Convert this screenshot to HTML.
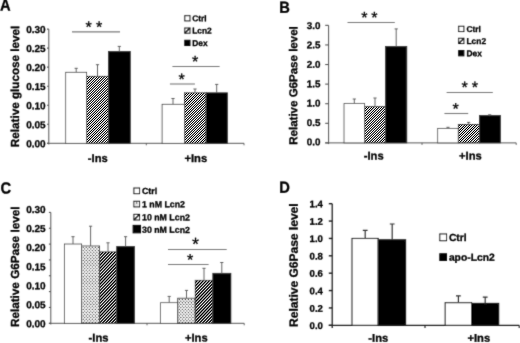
<!DOCTYPE html>
<html><head><meta charset="utf-8"><title>Figure</title>
<style>
html,body{margin:0;padding:0;background:#fff;}
body{width:520px;height:343px;overflow:hidden;}
svg{display:block;}
svg text{font-family:"Liberation Sans",sans-serif;font-weight:bold;fill:#000;stroke:#000;stroke-width:0.3px;}
</style></head>
<body>
<svg width="520" height="343" viewBox="0 0 520 343">
<defs>
<linearGradient id="gh1" gradientUnits="userSpaceOnUse" x1="0" y1="0" x2="1.2600" y2="1.2600" spreadMethod="repeat"><stop offset="0.0000" stop-color="#000000"/><stop offset="0.0625" stop-color="#000000"/><stop offset="0.1250" stop-color="#000000"/><stop offset="0.1875" stop-color="#393939"/><stop offset="0.2500" stop-color="#8c8c8c"/><stop offset="0.3125" stop-color="#dfdfdf"/><stop offset="0.3750" stop-color="#ffffff"/><stop offset="0.4375" stop-color="#ffffff"/><stop offset="0.5000" stop-color="#ffffff"/><stop offset="0.5625" stop-color="#ffffff"/><stop offset="0.6250" stop-color="#ffffff"/><stop offset="0.6875" stop-color="#dfdfdf"/><stop offset="0.7500" stop-color="#8c8c8c"/><stop offset="0.8125" stop-color="#393939"/><stop offset="0.8750" stop-color="#000000"/><stop offset="0.9375" stop-color="#000000"/><stop offset="1.0000" stop-color="#000000"/></linearGradient>
<filter id="soft" x="0" y="0" width="520" height="343" filterUnits="userSpaceOnUse"><feConvolveMatrix order="3" kernelMatrix="1 4 1 4 28 4 1 4 1" divisor="48" edgeMode="none" preserveAlpha="false"/></filter>
</defs>
<rect width="520" height="343" fill="#fff"/>
<g>
<rect x="86.60" y="76.30" width="21.80" height="67.00" fill="url(#gh1)"/>
<rect x="184.40" y="92.80" width="21.70" height="50.50" fill="url(#gh1)"/>
<rect x="364.60" y="106.60" width="20.90" height="36.30" fill="url(#gh1)"/>
<rect x="458.30" y="124.40" width="21.10" height="18.50" fill="url(#gh1)"/>
<clipPath id="c2"><rect x="99.60" y="251.80" width="17.10" height="71.50"/></clipPath>
<path clip-path="url(#c2)" d="M29.36 323.30L97.28 251.80M32.40 323.30L100.32 251.80M35.44 323.30L103.36 251.80M38.48 323.30L106.40 251.80M41.52 323.30L109.44 251.80M44.55 323.30L112.48 251.80M47.59 323.30L115.52 251.80M50.63 323.30L118.56 251.80M53.67 323.30L121.60 251.80M56.71 323.30L124.64 251.80M59.75 323.30L127.68 251.80M62.79 323.30L130.72 251.80M65.83 323.30L133.76 251.80M68.88 323.30L136.80 251.80M71.92 323.30L139.84 251.80M74.96 323.30L142.88 251.80M78.00 323.30L145.92 251.80M81.04 323.30L148.96 251.80M84.08 323.30L152.00 251.80M87.12 323.30L155.04 251.80M90.16 323.30L158.08 251.80M93.20 323.30L161.12 251.80M96.24 323.30L164.16 251.80M99.28 323.30L167.20 251.80M102.32 323.30L170.24 251.80M105.36 323.30L173.28 251.80M108.40 323.30L176.32 251.80M111.44 323.30L179.36 251.80M114.48 323.30L182.40 251.80M117.52 323.30L185.44 251.80" stroke="#000" stroke-width="1.3" fill="none"/>
<clipPath id="c4"><rect x="195.20" y="280.30" width="17.60" height="43.00"/></clipPath>
<path clip-path="url(#c4)" d="M153.71 323.30L194.56 280.30M156.75 323.30L197.60 280.30M159.79 323.30L200.64 280.30M162.83 323.30L203.68 280.30M165.87 323.30L206.72 280.30M168.91 323.30L209.76 280.30M171.95 323.30L212.80 280.30M174.99 323.30L215.84 280.30M178.03 323.30L218.88 280.30M181.07 323.30L221.92 280.30M184.11 323.30L224.96 280.30M187.15 323.30L228.00 280.30M190.19 323.30L231.04 280.30M193.23 323.30L234.08 280.30M196.27 323.30L237.12 280.30M199.31 323.30L240.16 280.30M202.35 323.30L243.20 280.30M205.39 323.30L246.24 280.30M208.43 323.30L249.28 280.30M211.47 323.30L252.32 280.30M214.51 323.30L255.36 280.30" stroke="#000" stroke-width="1.3" fill="none"/>
</g>
<g filter="url(#soft)">
<text transform="translate(-0.10,10.50) rotate(0.05) scale(0.92,1)" font-size="16.0">A</text>
<path d="M48.80 29.10V144.50" stroke="#555" stroke-width="1.0" fill="none"/>
<path d="M47.00 143.30H244.00" stroke="#555" stroke-width="1.0" fill="none"/>
<path d="M47.00 143.30H48.80" stroke="#555" stroke-width="1.10" fill="none"/>
<path d="M47.00 124.27H48.80" stroke="#555" stroke-width="1.10" fill="none"/>
<path d="M47.00 105.23H48.80" stroke="#555" stroke-width="1.10" fill="none"/>
<path d="M47.00 86.20H48.80" stroke="#555" stroke-width="1.10" fill="none"/>
<path d="M47.00 67.17H48.80" stroke="#555" stroke-width="1.10" fill="none"/>
<path d="M47.00 48.13H48.80" stroke="#555" stroke-width="1.10" fill="none"/>
<path d="M47.00 29.10H48.80" stroke="#555" stroke-width="1.10" fill="none"/>
<text x="45.60" y="147.23" transform="rotate(0.05 45.60 147.23)" font-size="10" text-anchor="end" >0.00</text>
<text x="45.60" y="128.19" transform="rotate(0.05 45.60 128.19)" font-size="10" text-anchor="end" >0.05</text>
<text x="45.60" y="109.15" transform="rotate(0.05 45.60 109.15)" font-size="10" text-anchor="end" >0.10</text>
<text x="45.60" y="90.11" transform="rotate(0.05 45.60 90.11)" font-size="10" text-anchor="end" >0.15</text>
<text x="45.60" y="71.06" transform="rotate(0.05 45.60 71.06)" font-size="10" text-anchor="end" >0.20</text>
<text x="45.60" y="52.02" transform="rotate(0.05 45.60 52.02)" font-size="10" text-anchor="end" >0.25</text>
<text x="45.60" y="32.98" transform="rotate(0.05 45.60 32.98)" font-size="10" text-anchor="end" >0.30</text>
<path d="M146.30 143.30v2.0" stroke="#555" stroke-width="0.90" fill="none"/>
<path d="M244.00 143.30v2.0" stroke="#555" stroke-width="0.90" fill="none"/>
<text transform="translate(19.09,86.45) rotate(-89.95)" font-size="11.7" text-anchor="middle">Relative glucose level</text>
<rect x="65.70" y="72.30" width="20.90" height="71.00" fill="#fff"/>
<rect x="65.70" y="72.30" width="20.90" height="71.00" fill="none" stroke="#3c3c3c" stroke-width="0.8"/>
<path d="M76.20 72.30V68.30M74.60 68.30H77.80" stroke="#555" stroke-width="0.9" fill="none"/>
<rect x="86.60" y="76.30" width="21.80" height="67.00" fill="none" stroke="#3c3c3c" stroke-width="0.8"/>
<path d="M97.50 76.30V64.70M95.90 64.70H99.10" stroke="#555" stroke-width="0.9" fill="none"/>
<rect x="108.40" y="51.40" width="21.90" height="91.90" fill="#000"/>
<rect x="108.40" y="51.40" width="21.90" height="91.90" fill="none" stroke="#3c3c3c" stroke-width="0.8"/>
<path d="M119.30 51.40V46.40M117.70 46.40H120.90" stroke="#555" stroke-width="0.9" fill="none"/>
<rect x="162.10" y="104.30" width="22.30" height="39.00" fill="#fff"/>
<rect x="162.10" y="104.30" width="22.30" height="39.00" fill="none" stroke="#3c3c3c" stroke-width="0.8"/>
<path d="M173.00 104.30V98.50M171.40 98.50H174.60" stroke="#555" stroke-width="0.9" fill="none"/>
<rect x="184.40" y="92.80" width="21.70" height="50.50" fill="none" stroke="#3c3c3c" stroke-width="0.8"/>
<path d="M195.00 92.80V89.00M193.40 89.00H196.60" stroke="#555" stroke-width="0.9" fill="none"/>
<rect x="206.10" y="92.80" width="21.30" height="50.50" fill="#000"/>
<rect x="206.10" y="92.80" width="21.30" height="50.50" fill="none" stroke="#3c3c3c" stroke-width="0.8"/>
<path d="M216.70 92.80V84.40M215.10 84.40H218.30" stroke="#555" stroke-width="0.9" fill="none"/>
<path d="M72.00 31.90H120.00" stroke="#7a7a7a" stroke-width="1.1" fill="none"/>
<text x="88.70" y="32.59" transform="rotate(0.05 88.70 24.40)" font-size="16.0" text-anchor="middle" style="font-weight:normal;stroke-width:0.3px">*</text>
<text x="99.20" y="32.59" transform="rotate(0.05 99.20 24.40)" font-size="16.0" text-anchor="middle" style="font-weight:normal;stroke-width:0.3px">*</text>
<path d="M172.40 66.50H219.60" stroke="#7a7a7a" stroke-width="1.1" fill="none"/>
<text x="195.20" y="67.09" transform="rotate(0.05 195.20 58.90)" font-size="16.0" text-anchor="middle" style="font-weight:normal;stroke-width:0.3px">*</text>
<path d="M169.90 84.00H194.90" stroke="#7a7a7a" stroke-width="1.1" fill="none"/>
<text x="181.65" y="84.89" transform="rotate(0.05 181.65 76.70)" font-size="16.0" text-anchor="middle" style="font-weight:normal;stroke-width:0.3px">*</text>
<rect x="184.80" y="15.70" width="5.20" height="5.20" fill="#fff" stroke="#111" stroke-width="1.05"/>
<text x="192.20" y="21.31" transform="rotate(0.05 192.20 21.31)" font-size="8.4" text-anchor="start" >Ctrl</text>
<rect x="184.80" y="28.00" width="5.20" height="5.20" fill="#fff" stroke="#111" stroke-width="1.05"/>
<path d="M185.20 32.80L189.60 28.40" stroke="#000" stroke-width="1.5" fill="none"/>
<text x="192.20" y="33.61" transform="rotate(0.05 192.20 33.61)" font-size="8.4" text-anchor="start" >Lcn2</text>
<rect x="184.80" y="40.30" width="5.20" height="5.20" fill="#000" stroke="#111" stroke-width="1.05"/>
<text x="192.20" y="45.91" transform="rotate(0.05 192.20 45.91)" font-size="8.4" text-anchor="start" >Dex</text>
<text x="97.80" y="162.00" transform="rotate(0.05 97.80 162.00)" font-size="11.2" text-anchor="middle" >-Ins</text>
<text x="195.80" y="161.90" transform="rotate(0.05 195.80 161.90)" font-size="11.2" text-anchor="middle" >+Ins</text>
<text transform="translate(279.30,12.80) rotate(0.05) scale(0.92,1)" font-size="16.0">B</text>
<path d="M328.60 25.35V144.10" stroke="#555" stroke-width="1.0" fill="none"/>
<path d="M325.20 142.90H516.20" stroke="#555" stroke-width="1.0" fill="none"/>
<path d="M325.20 142.90H328.60" stroke="#555" stroke-width="1.10" fill="none"/>
<path d="M325.20 123.31H328.60" stroke="#555" stroke-width="1.10" fill="none"/>
<path d="M325.20 103.72H328.60" stroke="#555" stroke-width="1.10" fill="none"/>
<path d="M325.20 84.12H328.60" stroke="#555" stroke-width="1.10" fill="none"/>
<path d="M325.20 64.53H328.60" stroke="#555" stroke-width="1.10" fill="none"/>
<path d="M325.20 44.94H328.60" stroke="#555" stroke-width="1.10" fill="none"/>
<path d="M325.20 25.35H328.60" stroke="#555" stroke-width="1.10" fill="none"/>
<text x="320.40" y="145.31" transform="rotate(0.05 320.40 145.31)" font-size="9.8" text-anchor="end" >0.0</text>
<text x="320.40" y="125.93" transform="rotate(0.05 320.40 125.93)" font-size="9.8" text-anchor="end" >0.5</text>
<text x="320.40" y="106.54" transform="rotate(0.05 320.40 106.54)" font-size="9.8" text-anchor="end" >1.0</text>
<text x="320.40" y="87.16" transform="rotate(0.05 320.40 87.16)" font-size="9.8" text-anchor="end" >1.5</text>
<text x="320.40" y="67.78" transform="rotate(0.05 320.40 67.78)" font-size="9.8" text-anchor="end" >2.0</text>
<text x="320.40" y="48.39" transform="rotate(0.05 320.40 48.39)" font-size="9.8" text-anchor="end" >2.5</text>
<text x="320.40" y="29.01" transform="rotate(0.05 320.40 29.01)" font-size="9.8" text-anchor="end" >3.0</text>
<path d="M422.00 142.90v2.0" stroke="#555" stroke-width="0.90" fill="none"/>
<path d="M516.20 142.90v2.0" stroke="#555" stroke-width="0.90" fill="none"/>
<text transform="translate(297.33,85.50) rotate(-89.95)" font-size="11.54" text-anchor="middle">Relative G6Pase level</text>
<rect x="344.00" y="103.60" width="20.60" height="39.30" fill="#fff"/>
<rect x="344.00" y="103.60" width="20.60" height="39.30" fill="none" stroke="#3c3c3c" stroke-width="0.8"/>
<path d="M354.30 103.60V99.00M352.70 99.00H355.90" stroke="#555" stroke-width="0.9" fill="none"/>
<rect x="364.60" y="106.60" width="20.90" height="36.30" fill="none" stroke="#3c3c3c" stroke-width="0.8"/>
<path d="M375.00 106.60V98.00M373.40 98.00H376.60" stroke="#555" stroke-width="0.9" fill="none"/>
<rect x="385.50" y="46.40" width="21.30" height="96.50" fill="#000"/>
<rect x="385.50" y="46.40" width="21.30" height="96.50" fill="none" stroke="#3c3c3c" stroke-width="0.8"/>
<path d="M396.20 46.40V28.90M394.60 28.90H397.80" stroke="#555" stroke-width="0.9" fill="none"/>
<rect x="437.70" y="128.50" width="20.60" height="14.40" fill="#fff"/>
<rect x="437.70" y="128.50" width="20.60" height="14.40" fill="none" stroke="#3c3c3c" stroke-width="0.8"/>
<path d="M448.00 128.50V127.30M446.40 127.30H449.60" stroke="#555" stroke-width="0.9" fill="none"/>
<rect x="458.30" y="124.40" width="21.10" height="18.50" fill="none" stroke="#3c3c3c" stroke-width="0.8"/>
<path d="M468.60 124.40V122.40M467.00 122.40H470.20" stroke="#555" stroke-width="0.9" fill="none"/>
<rect x="479.40" y="115.40" width="21.00" height="27.50" fill="#000"/>
<rect x="479.40" y="115.40" width="21.00" height="27.50" fill="none" stroke="#3c3c3c" stroke-width="0.8"/>
<path d="M489.70 115.40V114.80M488.10 114.80H491.30" stroke="#555" stroke-width="0.9" fill="none"/>
<path d="M347.50 22.50H394.80" stroke="#7a7a7a" stroke-width="1.1" fill="none"/>
<text x="364.40" y="23.09" transform="rotate(0.05 364.40 14.90)" font-size="16.0" text-anchor="middle" style="font-weight:normal;stroke-width:0.3px">*</text>
<text x="374.40" y="23.09" transform="rotate(0.05 374.40 14.90)" font-size="16.0" text-anchor="middle" style="font-weight:normal;stroke-width:0.3px">*</text>
<path d="M446.60 92.50H492.80" stroke="#7a7a7a" stroke-width="1.1" fill="none"/>
<text x="464.70" y="92.69" transform="rotate(0.05 464.70 84.50)" font-size="16.0" text-anchor="middle" style="font-weight:normal;stroke-width:0.3px">*</text>
<text x="474.80" y="92.69" transform="rotate(0.05 474.80 84.50)" font-size="16.0" text-anchor="middle" style="font-weight:normal;stroke-width:0.3px">*</text>
<path d="M444.40 113.50H468.20" stroke="#7a7a7a" stroke-width="1.1" fill="none"/>
<text x="455.70" y="114.39" transform="rotate(0.05 455.70 106.20)" font-size="16.0" text-anchor="middle" style="font-weight:normal;stroke-width:0.3px">*</text>
<rect x="458.70" y="26.30" width="5.20" height="5.20" fill="#fff" stroke="#111" stroke-width="1.05"/>
<text x="466.50" y="31.91" transform="rotate(0.05 466.50 31.91)" font-size="8.4" text-anchor="start" >Ctrl</text>
<rect x="458.70" y="38.30" width="5.20" height="5.20" fill="#fff" stroke="#111" stroke-width="1.05"/>
<path d="M459.10 43.10L463.50 38.70" stroke="#000" stroke-width="1.5" fill="none"/>
<text x="466.50" y="43.91" transform="rotate(0.05 466.50 43.91)" font-size="8.4" text-anchor="start" >Lcn2</text>
<rect x="458.70" y="50.60" width="5.20" height="5.20" fill="#000" stroke="#111" stroke-width="1.05"/>
<text x="466.50" y="56.21" transform="rotate(0.05 466.50 56.21)" font-size="8.4" text-anchor="start" >Dex</text>
<text x="373.70" y="159.60" transform="rotate(0.05 373.70 159.60)" font-size="11.2" text-anchor="middle" >-Ins</text>
<text x="470.40" y="159.60" transform="rotate(0.05 470.40 159.60)" font-size="11.2" text-anchor="middle" >+Ins</text>
<text transform="translate(0.50,193.50) rotate(0.05) scale(0.92,1)" font-size="16.0">C</text>
<path d="M50.80 212.40V324.50" stroke="#555" stroke-width="1.0" fill="none"/>
<path d="M48.90 323.30H244.20" stroke="#555" stroke-width="1.0" fill="none"/>
<path d="M48.90 323.30H50.80" stroke="#555" stroke-width="1.10" fill="none"/>
<path d="M48.90 307.46H50.80" stroke="#555" stroke-width="1.10" fill="none"/>
<path d="M48.90 291.61H50.80" stroke="#555" stroke-width="1.10" fill="none"/>
<path d="M48.90 275.77H50.80" stroke="#555" stroke-width="1.10" fill="none"/>
<path d="M48.90 259.93H50.80" stroke="#555" stroke-width="1.10" fill="none"/>
<path d="M48.90 244.09H50.80" stroke="#555" stroke-width="1.10" fill="none"/>
<path d="M48.90 228.24H50.80" stroke="#555" stroke-width="1.10" fill="none"/>
<path d="M48.90 212.40H50.80" stroke="#555" stroke-width="1.10" fill="none"/>
<text x="45.60" y="327.23" transform="rotate(0.05 45.60 327.23)" font-size="10" text-anchor="end" >0.00</text>
<text x="45.60" y="308.20" transform="rotate(0.05 45.60 308.20)" font-size="10" text-anchor="end" >0.05</text>
<text x="45.60" y="289.18" transform="rotate(0.05 45.60 289.18)" font-size="10" text-anchor="end" >0.10</text>
<text x="45.60" y="270.15" transform="rotate(0.05 45.60 270.15)" font-size="10" text-anchor="end" >0.15</text>
<text x="45.60" y="251.13" transform="rotate(0.05 45.60 251.13)" font-size="10" text-anchor="end" >0.20</text>
<text x="45.60" y="232.10" transform="rotate(0.05 45.60 232.10)" font-size="10" text-anchor="end" >0.25</text>
<text x="45.60" y="213.08" transform="rotate(0.05 45.60 213.08)" font-size="10" text-anchor="end" >0.30</text>
<path d="M147.00 323.30v2.0" stroke="#555" stroke-width="0.90" fill="none"/>
<path d="M244.20 323.30v2.0" stroke="#555" stroke-width="0.90" fill="none"/>
<text transform="translate(19.10,266.80) rotate(-89.95)" font-size="11.72" text-anchor="middle">Relative G6Pase level</text>
<rect x="64.50" y="244.00" width="17.10" height="79.30" fill="#fff"/>
<rect x="64.50" y="244.00" width="17.10" height="79.30" fill="none" stroke="#3c3c3c" stroke-width="0.8"/>
<path d="M73.00 244.00V236.70M71.40 236.70H74.60" stroke="#555" stroke-width="0.9" fill="none"/>
<clipPath id="c1"><rect x="81.60" y="246.00" width="18.00" height="77.30"/></clipPath>
<path clip-path="url(#c1)" d="M80.16 247.30H102.64M81.68 248.94H102.64M80.16 250.57H102.64M81.68 252.20H102.64M80.16 253.84H102.64M81.68 255.47H102.64M80.16 257.11H102.64M81.68 258.74H102.64M80.16 260.38H102.64M81.68 262.01H102.64M80.16 263.65H102.64M81.68 265.28H102.64M80.16 266.92H102.64M81.68 268.55H102.64M80.16 270.19H102.64M81.68 271.82H102.64M80.16 273.46H102.64M81.68 275.09H102.64M80.16 276.73H102.64M81.68 278.36H102.64M80.16 280.00H102.64M81.68 281.63H102.64M80.16 283.27H102.64M81.68 284.90H102.64M80.16 286.54H102.64M81.68 288.17H102.64M80.16 289.81H102.64M81.68 291.44H102.64M80.16 293.08H102.64M81.68 294.71H102.64M80.16 296.35H102.64M81.68 297.98H102.64M80.16 299.62H102.64M81.68 301.25H102.64M80.16 302.89H102.64M81.68 304.52H102.64M80.16 306.16H102.64M81.68 307.79H102.64M80.16 309.43H102.64M81.68 311.06H102.64M80.16 312.70H102.64M81.68 314.33H102.64M80.16 315.97H102.64M81.68 317.60H102.64M80.16 319.24H102.64M81.68 320.87H102.64M80.16 322.51H102.64M81.68 324.14H102.64M80.16 325.78H102.64" stroke="#3a3a3a" stroke-width="1.32" stroke-linecap="round" stroke-dasharray="0 3.04" fill="none"/>
<rect x="81.60" y="246.00" width="18.00" height="77.30" fill="none" stroke="#3c3c3c" stroke-width="0.8"/>
<path d="M90.60 246.00V226.20M89.00 226.20H92.20" stroke="#555" stroke-width="0.9" fill="none"/>
<rect x="99.60" y="251.80" width="17.10" height="71.50" fill="none" stroke="#3c3c3c" stroke-width="0.8"/>
<path d="M108.00 251.80V242.80M106.40 242.80H109.60" stroke="#555" stroke-width="0.9" fill="none"/>
<rect x="116.70" y="246.50" width="17.80" height="76.80" fill="#000"/>
<rect x="116.70" y="246.50" width="17.80" height="76.80" fill="none" stroke="#3c3c3c" stroke-width="0.8"/>
<path d="M125.60 246.50V236.70M124.00 236.70H127.20" stroke="#555" stroke-width="0.9" fill="none"/>
<rect x="160.60" y="302.70" width="17.10" height="20.60" fill="#fff"/>
<rect x="160.60" y="302.70" width="17.10" height="20.60" fill="none" stroke="#3c3c3c" stroke-width="0.8"/>
<path d="M169.20 302.70V296.40M167.60 296.40H170.80" stroke="#555" stroke-width="0.9" fill="none"/>
<clipPath id="c3"><rect x="177.70" y="298.20" width="17.50" height="25.10"/></clipPath>
<path clip-path="url(#c3)" d="M176.26 299.50H198.24M177.78 301.13H198.24M176.26 302.77H198.24M177.78 304.40H198.24M176.26 306.04H198.24M177.78 307.67H198.24M176.26 309.31H198.24M177.78 310.94H198.24M176.26 312.58H198.24M177.78 314.21H198.24M176.26 315.85H198.24M177.78 317.48H198.24M176.26 319.12H198.24M177.78 320.75H198.24M176.26 322.39H198.24M177.78 324.02H198.24M176.26 325.66H198.24" stroke="#3a3a3a" stroke-width="1.32" stroke-linecap="round" stroke-dasharray="0 3.04" fill="none"/>
<rect x="177.70" y="298.20" width="17.50" height="25.10" fill="none" stroke="#3c3c3c" stroke-width="0.8"/>
<path d="M186.50 298.20V290.40M184.90 290.40H188.10" stroke="#555" stroke-width="0.9" fill="none"/>
<rect x="195.20" y="280.30" width="17.60" height="43.00" fill="none" stroke="#3c3c3c" stroke-width="0.8"/>
<path d="M204.00 280.30V268.30M202.40 268.30H205.60" stroke="#555" stroke-width="0.9" fill="none"/>
<rect x="212.80" y="273.30" width="18.10" height="50.00" fill="#000"/>
<rect x="212.80" y="273.30" width="18.10" height="50.00" fill="none" stroke="#3c3c3c" stroke-width="0.8"/>
<path d="M221.80 273.30V262.50M220.20 262.50H223.40" stroke="#555" stroke-width="0.9" fill="none"/>
<path d="M168.00 249.50H226.70" stroke="#7a7a7a" stroke-width="1.1" fill="none"/>
<text x="195.50" y="250.22" transform="rotate(0.05 195.50 241.00)" font-size="18" text-anchor="middle" style="font-weight:normal;stroke-width:0.2px">*</text>
<path d="M168.00 264.50H208.60" stroke="#7a7a7a" stroke-width="1.1" fill="none"/>
<text x="190.10" y="265.19" transform="rotate(0.05 190.10 257.00)" font-size="16" text-anchor="middle" style="font-weight:normal;stroke-width:0.3px">*</text>
<rect x="133.90" y="188.00" width="5.60" height="5.60" fill="#fff" stroke="#111" stroke-width="1.05"/>
<text x="142.00" y="193.95" transform="rotate(0.05 142.00 193.95)" font-size="8.8" text-anchor="start" >Ctrl</text>
<rect x="133.90" y="201.30" width="5.60" height="5.60" fill="#fff" stroke="#111" stroke-width="1.05"/>
<rect x="134.80" y="202.20" width="3.80" height="3.80" fill="#e4e4e4"/>
<rect x="136.20" y="202.20" width="1" height="1.5" fill="#444"/>
<text x="142.00" y="207.25" transform="rotate(0.05 142.00 207.25)" font-size="8.8" text-anchor="start" >1 nM Lcn2</text>
<rect x="133.90" y="214.40" width="5.60" height="5.60" fill="#fff" stroke="#111" stroke-width="1.05"/>
<path d="M134.30 219.60L139.10 214.80" stroke="#000" stroke-width="1.5" fill="none"/>
<text x="142.00" y="220.35" transform="rotate(0.05 142.00 220.35)" font-size="8.8" text-anchor="start" >10 nM Lcn2</text>
<rect x="133.10" y="225.40" width="7.40" height="7.40" fill="#000" stroke="#111" stroke-width="1.05"/>
<text x="142.00" y="232.85" transform="rotate(0.05 142.00 232.85)" font-size="8.8" text-anchor="start" >30 nM Lcn2</text>
<text x="98.50" y="341.60" transform="rotate(0.05 98.50 341.60)" font-size="11.2" text-anchor="middle" >-Ins</text>
<text x="196.30" y="341.60" transform="rotate(0.05 196.30 341.60)" font-size="11.2" text-anchor="middle" >+Ins</text>
<text transform="translate(279.30,192.80) rotate(0.05) scale(0.92,1)" font-size="16.0">D</text>
<path d="M332.20 203.70V327.90" stroke="#222" stroke-width="1.3" fill="none"/>
<path d="M328.80 325.30H519.20" stroke="#222" stroke-width="1.3" fill="none"/>
<path d="M328.80 325.30H332.20" stroke="#222" stroke-width="1.43" fill="none"/>
<path d="M328.80 307.93H332.20" stroke="#222" stroke-width="1.43" fill="none"/>
<path d="M328.80 290.56H332.20" stroke="#222" stroke-width="1.43" fill="none"/>
<path d="M328.80 273.19H332.20" stroke="#222" stroke-width="1.43" fill="none"/>
<path d="M328.80 255.81H332.20" stroke="#222" stroke-width="1.43" fill="none"/>
<path d="M328.80 238.44H332.20" stroke="#222" stroke-width="1.43" fill="none"/>
<path d="M328.80 221.07H332.20" stroke="#222" stroke-width="1.43" fill="none"/>
<path d="M328.80 203.70H332.20" stroke="#222" stroke-width="1.43" fill="none"/>
<text x="322.90" y="329.04" transform="rotate(0.05 322.90 329.04)" font-size="9.6" text-anchor="end" >0.0</text>
<text x="322.90" y="311.65" transform="rotate(0.05 322.90 311.65)" font-size="9.6" text-anchor="end" >0.2</text>
<text x="322.90" y="294.27" transform="rotate(0.05 322.90 294.27)" font-size="9.6" text-anchor="end" >0.4</text>
<text x="322.90" y="276.88" transform="rotate(0.05 322.90 276.88)" font-size="9.6" text-anchor="end" >0.6</text>
<text x="322.90" y="259.49" transform="rotate(0.05 322.90 259.49)" font-size="9.6" text-anchor="end" >0.8</text>
<text x="322.90" y="242.11" transform="rotate(0.05 322.90 242.11)" font-size="9.6" text-anchor="end" >1.0</text>
<text x="322.90" y="224.72" transform="rotate(0.05 322.90 224.72)" font-size="9.6" text-anchor="end" >1.2</text>
<text x="322.90" y="207.34" transform="rotate(0.05 322.90 207.34)" font-size="9.6" text-anchor="end" >1.4</text>
<path d="M425.00 325.30v2.6" stroke="#222" stroke-width="1.17" fill="none"/>
<path d="M519.20 325.30v2.6" stroke="#222" stroke-width="1.17" fill="none"/>
<text transform="translate(297.70,265.20) rotate(-89.95)" font-size="12.02" text-anchor="middle">Relative G6Pase level</text>
<rect x="352.00" y="238.50" width="26.20" height="86.80" fill="#fff"/>
<rect x="352.00" y="238.50" width="26.20" height="86.80" fill="none" stroke="#222" stroke-width="1.1"/>
<path d="M365.20 238.50V230.40M362.80 230.40H367.60" stroke="#333" stroke-width="1.2" fill="none"/>
<rect x="378.20" y="239.80" width="27.40" height="85.50" fill="#000"/>
<rect x="378.20" y="239.80" width="27.40" height="85.50" fill="none" stroke="#222" stroke-width="1.1"/>
<path d="M392.20 239.80V224.00M389.80 224.00H394.60" stroke="#333" stroke-width="1.2" fill="none"/>
<rect x="445.20" y="302.70" width="26.40" height="22.60" fill="#fff"/>
<rect x="445.20" y="302.70" width="26.40" height="22.60" fill="none" stroke="#222" stroke-width="1.1"/>
<path d="M458.40 302.70V295.90M456.00 295.90H460.80" stroke="#333" stroke-width="1.2" fill="none"/>
<rect x="471.60" y="303.40" width="27.10" height="21.90" fill="#000"/>
<rect x="471.60" y="303.40" width="27.10" height="21.90" fill="none" stroke="#222" stroke-width="1.1"/>
<path d="M485.20 303.40V297.20M482.80 297.20H487.60" stroke="#333" stroke-width="1.2" fill="none"/>
<rect x="439.80" y="233.95" width="6.70" height="6.70" fill="#fff" stroke="#111" stroke-width="1.05"/>
<text x="448.90" y="240.99" transform="rotate(0.05 448.90 240.99)" font-size="10.3" text-anchor="start" >Ctrl</text>
<rect x="439.80" y="253.75" width="6.70" height="6.70" fill="#000" stroke="#111" stroke-width="1.05"/>
<text x="448.90" y="260.79" transform="rotate(0.05 448.90 260.79)" font-size="10.3" text-anchor="start" >apo-Lcn2</text>
<text x="378.30" y="341.70" transform="rotate(0.05 378.30 341.70)" font-size="11.2" text-anchor="middle" >-Ins</text>
<text x="478.80" y="341.70" transform="rotate(0.05 478.80 341.70)" font-size="11.2" text-anchor="middle" >+Ins</text>
</g>
</svg>
</body></html>
